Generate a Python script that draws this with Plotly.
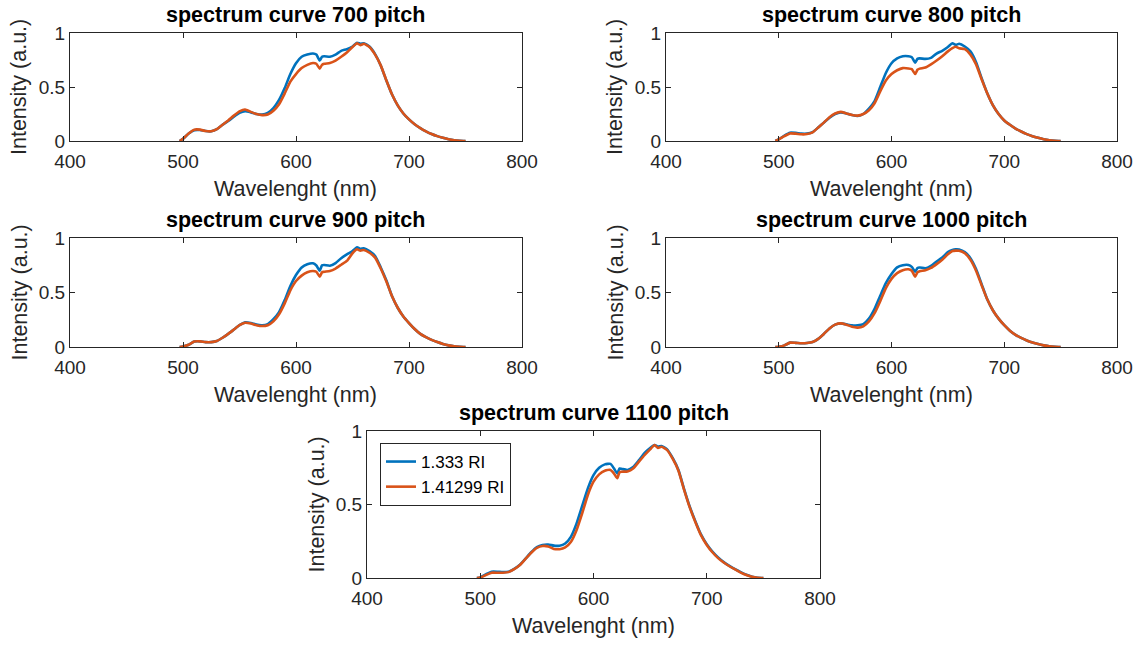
import plotly.graph_objects as go

# Wavelength sampling grid (nm) shared by every spectrum
wavelength = [497, 500, 505, 510, 515, 520, 525, 530, 535, 540,
              545, 550, 555, 560, 565, 570, 575, 580, 585, 590,
              595, 600, 605, 610, 615, 618, 621, 623, 625, 630,
              635, 640, 645, 650, 654, 657, 660, 665, 670, 675,
              680, 685, 690, 695, 700, 705, 710, 715, 720, 725,
              730, 735, 740, 745, 750]

# Normalised intensity, refractive index 1.333 (water)
ri1333_700 = [0.0, 0.02, 0.07, 0.1, 0.102, 0.092, 0.09, 0.11, 0.15, 0.185,
              0.225, 0.26, 0.275, 0.265, 0.25, 0.245, 0.26, 0.305, 0.38, 0.49,
              0.62, 0.72, 0.78, 0.8, 0.81, 0.8, 0.745, 0.78, 0.785, 0.78,
              0.8, 0.835, 0.85, 0.875, 0.91, 0.9, 0.905, 0.875, 0.805, 0.7,
              0.56, 0.43, 0.33, 0.255, 0.2, 0.155, 0.12, 0.09, 0.065, 0.045,
              0.03, 0.017, 0.007, 0.002, 0.0]
ri1333_800 = [0.0, 0.015, 0.05, 0.077, 0.075, 0.068, 0.068, 0.082, 0.125, 0.17,
              0.215, 0.25, 0.265, 0.255, 0.24, 0.232, 0.25, 0.3, 0.37, 0.5,
              0.63, 0.72, 0.765, 0.785, 0.785, 0.775, 0.725, 0.76, 0.765, 0.76,
              0.77, 0.81, 0.835, 0.87, 0.905, 0.89, 0.9, 0.875, 0.83, 0.73,
              0.58, 0.44, 0.33, 0.25, 0.19, 0.15, 0.115, 0.088, 0.064, 0.045,
              0.03, 0.017, 0.007, 0.002, 0.0]
ri1333_900 = [0.0, 0.005, 0.02, 0.05, 0.052, 0.045, 0.045, 0.055, 0.085, 0.12,
              0.16, 0.2, 0.226, 0.22, 0.205, 0.2, 0.21, 0.255, 0.32, 0.43,
              0.56, 0.66, 0.73, 0.76, 0.768, 0.748, 0.7, 0.75, 0.752, 0.745,
              0.77, 0.815, 0.85, 0.88, 0.914, 0.9, 0.905, 0.88, 0.835, 0.73,
              0.61, 0.465, 0.36, 0.28, 0.22, 0.165, 0.12, 0.09, 0.065, 0.045,
              0.028, 0.015, 0.006, 0.002, 0.0]
ri1333_1000 = [0.0, 0.003, 0.015, 0.04, 0.038, 0.034, 0.036, 0.045, 0.075, 0.12,
               0.17, 0.205, 0.217, 0.208, 0.198, 0.2, 0.21, 0.26, 0.35, 0.47,
               0.585, 0.67, 0.73, 0.75, 0.752, 0.735, 0.69, 0.725, 0.73, 0.722,
               0.745, 0.785, 0.82, 0.87, 0.89, 0.896, 0.894, 0.87, 0.815, 0.715,
               0.575, 0.435, 0.335, 0.26, 0.2, 0.15, 0.112, 0.083, 0.06, 0.042,
               0.027, 0.015, 0.006, 0.002, 0.0]
ri1333_1100 = [0.0, 0.004, 0.025, 0.043, 0.043, 0.04, 0.043, 0.062, 0.09, 0.132,
               0.175, 0.21, 0.225, 0.228, 0.22, 0.22, 0.235, 0.28, 0.37, 0.49,
               0.61, 0.7, 0.75, 0.773, 0.776, 0.746, 0.712, 0.745, 0.742, 0.735,
               0.755, 0.8, 0.85, 0.885, 0.905, 0.895, 0.898, 0.875, 0.815, 0.735,
               0.605, 0.485, 0.385, 0.295, 0.23, 0.18, 0.14, 0.108, 0.083, 0.06,
               0.04, 0.022, 0.009, 0.002, 0.0]

# Normalised intensity, refractive index 1.41299
ri1413_700 = [0.0, 0.02, 0.07, 0.105, 0.105, 0.092, 0.09, 0.11, 0.15, 0.19,
              0.235, 0.275, 0.292, 0.27, 0.25, 0.24, 0.245, 0.28, 0.34, 0.44,
              0.55, 0.62, 0.675, 0.705, 0.722, 0.715, 0.67, 0.705, 0.715, 0.722,
              0.745, 0.78, 0.82, 0.87, 0.905, 0.888, 0.9, 0.87, 0.8, 0.7,
              0.56, 0.43, 0.33, 0.255, 0.2, 0.155, 0.12, 0.09, 0.065, 0.045,
              0.03, 0.017, 0.007, 0.002, 0.0]
ri1413_800 = [0.0, 0.015, 0.045, 0.07, 0.068, 0.062, 0.064, 0.08, 0.125, 0.17,
              0.22, 0.255, 0.27, 0.255, 0.24, 0.235, 0.25, 0.285, 0.35, 0.46,
              0.56, 0.62, 0.655, 0.675, 0.672, 0.665, 0.62, 0.66, 0.67, 0.68,
              0.71, 0.745, 0.785, 0.83, 0.86, 0.873, 0.858, 0.85, 0.8, 0.71,
              0.57, 0.44, 0.33, 0.25, 0.19, 0.15, 0.115, 0.088, 0.064, 0.045,
              0.03, 0.017, 0.007, 0.002, 0.0]
ri1413_900 = [0.0, 0.005, 0.02, 0.05, 0.052, 0.045, 0.045, 0.055, 0.085, 0.12,
              0.16, 0.2, 0.222, 0.215, 0.2, 0.192, 0.2, 0.235, 0.3, 0.4,
              0.52, 0.605, 0.655, 0.685, 0.697, 0.69, 0.645, 0.685, 0.69, 0.698,
              0.72, 0.755, 0.79, 0.86, 0.896, 0.884, 0.89, 0.865, 0.82, 0.72,
              0.6, 0.465, 0.36, 0.28, 0.22, 0.165, 0.12, 0.09, 0.065, 0.045,
              0.028, 0.015, 0.006, 0.002, 0.0]
ri1413_1000 = [0.0, 0.003, 0.015, 0.04, 0.038, 0.034, 0.036, 0.045, 0.075, 0.12,
               0.17, 0.205, 0.217, 0.205, 0.185, 0.178, 0.19, 0.235, 0.31, 0.42,
               0.54, 0.625, 0.678, 0.705, 0.713, 0.7, 0.645, 0.685, 0.695, 0.705,
               0.725, 0.76, 0.8, 0.85, 0.88, 0.884, 0.882, 0.86, 0.8, 0.7,
               0.565, 0.435, 0.335, 0.26, 0.2, 0.15, 0.112, 0.083, 0.06, 0.042,
               0.027, 0.015, 0.006, 0.002, 0.0]
ri1413_1100 = [0.0, 0.003, 0.02, 0.036, 0.036, 0.036, 0.04, 0.06, 0.088, 0.13,
               0.172, 0.205, 0.218, 0.215, 0.198, 0.196, 0.208, 0.245, 0.325, 0.44,
               0.565, 0.655, 0.705, 0.73, 0.735, 0.712, 0.678, 0.72, 0.723, 0.725,
               0.745, 0.79, 0.835, 0.875, 0.905, 0.884, 0.893, 0.87, 0.81, 0.73,
               0.6, 0.48, 0.38, 0.29, 0.225, 0.175, 0.135, 0.105, 0.08, 0.058,
               0.037, 0.02, 0.008, 0.002, 0.0]

pitches = [700, 800, 900, 1000, 1100]
series_1333 = [ri1333_700, ri1333_800, ri1333_900, ri1333_1000, ri1333_1100]
series_1413 = [ri1413_700, ri1413_800, ri1413_900, ri1413_1000, ri1413_1100]
legend_names = ["1.333 RI", "1.41299 RI"]

x_ticks = [400, 500, 600, 700, 800]
y_ticks = [0, 0.5, 1]
y_ticktext = ["0", "0.5", "1"]

W, H = 1142, 646
FONT = "Liberation Sans, Arial, sans-serif"
AX_COLOR = "#262626"
BLUE = "#0072BD"
ORANGE = "#D95319"

# Plot-area boxes in pixels: (left, right, top, bottom)
boxes = [
    (70, 522, 33, 141),
    (666, 1117, 33, 141),
    (70, 522, 238, 347),
    (666, 1117, 238, 347),
    (367, 820, 431, 578),
]

fig = go.Figure()
annotations = []

for i, (pitch, b_vals, o_vals, box) in enumerate(zip(pitches, series_1333, series_1413, boxes)):
    n = i + 1
    xname = "x" if n == 1 else f"x{n}"
    yname = "y" if n == 1 else f"y{n}"
    show = (pitch == 1100)
    fig.add_trace(go.Scatter(x=wavelength, y=b_vals, mode="lines", name=legend_names[0],
                             line=dict(color=BLUE, width=2.6, shape="spline", smoothing=0.5),
                             xaxis=xname, yaxis=yname, showlegend=show))
    fig.add_trace(go.Scatter(x=wavelength, y=o_vals, mode="lines", name=legend_names[1],
                             line=dict(color=ORANGE, width=2.6, shape="spline", smoothing=0.5),
                             xaxis=xname, yaxis=yname, showlegend=show))

    left, right, top, bottom = box
    xdom = [left / W, right / W]
    ydom = [1 - bottom / H, 1 - top / H]
    axis_common = dict(ticks="inside", ticklen=5, tickwidth=1, tickcolor=AX_COLOR,
                       showline=True, linecolor=AX_COLOR, linewidth=1, mirror="ticks",
                       showgrid=False, zeroline=False, automargin=False,
                       tickfont=dict(family=FONT, size=19, color=AX_COLOR))
    fig.update_layout(**{
        ("xaxis" if n == 1 else f"xaxis{n}"): dict(
            domain=xdom, range=[400, 800], tickvals=x_ticks, anchor=yname,
            ticklabelstandoff=3, **axis_common),
        ("yaxis" if n == 1 else f"yaxis{n}"): dict(
            domain=ydom, range=[0, 1], tickvals=y_ticks, ticktext=y_ticktext,
            anchor=xname, **axis_common),
    })

    cx = (left + right) / 2
    cy = (top + bottom) / 2
    annotations.append(dict(text=f"<b>spectrum curve {pitch} pitch</b>", x=cx / W, y=1 - (top - 18) / H,
                            xref="paper", yref="paper", xanchor="center", yanchor="middle",
                            showarrow=False, font=dict(family=FONT, size=21.5, color="#000000")))
    annotations.append(dict(text="Wavelenght (nm)", x=cx / W, y=1 - (bottom + 48) / H,
                            xref="paper", yref="paper", xanchor="center", yanchor="middle",
                            showarrow=False, font=dict(family=FONT, size=21.5, color=AX_COLOR)))
    annotations.append(dict(text="Intensity (a.u.)", x=(left - 51) / W, y=1 - cy / H,
                            xref="paper", yref="paper", xanchor="center", yanchor="middle",
                            textangle=-90, showarrow=False,
                            font=dict(family=FONT, size=21.5, color=AX_COLOR)))

fig.update_layout(
    template="none",
    width=W, height=H,
    margin=dict(l=0, r=0, t=0, b=0),
    paper_bgcolor="white", plot_bgcolor="white",
    font=dict(family=FONT, color=AX_COLOR),
    annotations=annotations,
    legend=dict(x=380 / W, y=1 - 443 / H, xanchor="left", yanchor="top",
                bgcolor="white", bordercolor=AX_COLOR, borderwidth=1,
                font=dict(family=FONT, size=17, color="#000000"),
                itemwidth=30, tracegroupgap=0),
)

fig.write_html("out.html")
